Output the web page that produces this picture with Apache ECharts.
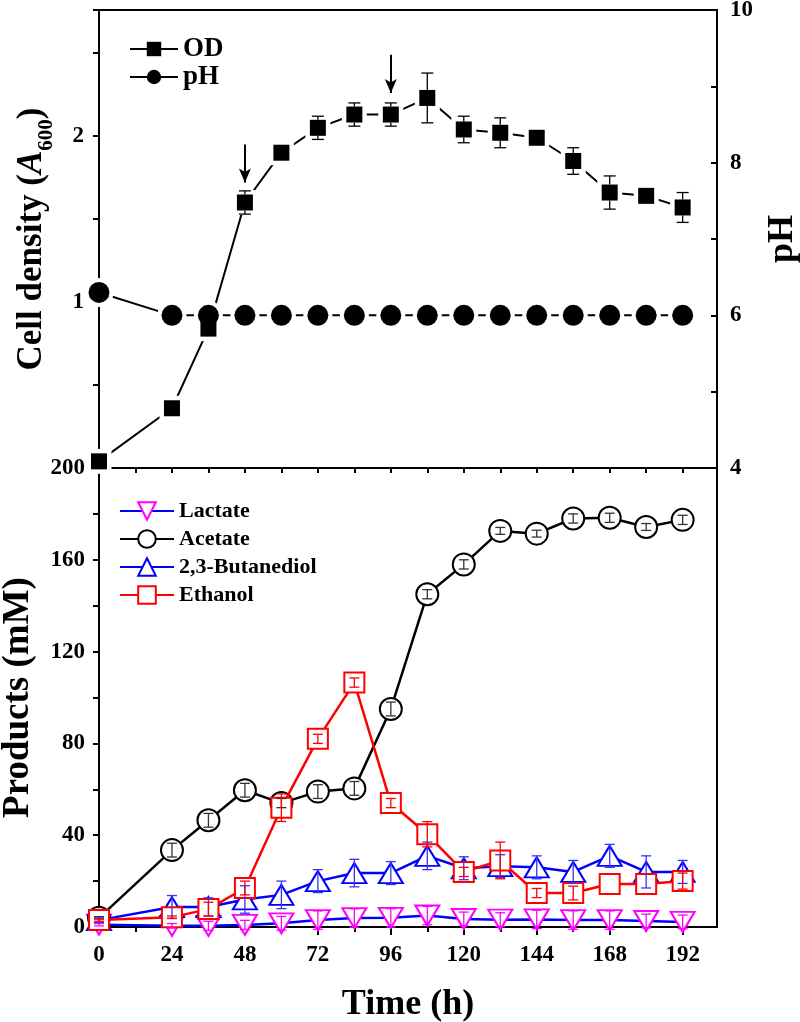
<!DOCTYPE html>
<html>
<head>
<meta charset="utf-8">
<script src="https://cdn.jsdelivr.net/npm/echarts@6/dist/echarts.min.js"></script>
<style>
html,body{margin:0;padding:0;background:#fff;}
#chart{width:800px;height:1022px;}
</style>
</head>
<body>
<div id="chart"></div>
<script>
// ---------- data ----------
const times = [0, 24, 36, 48, 60, 72, 84, 96, 108, 120, 132, 144, 156, 168, 180, 192];
const od = [0.04, 0.36, 0.84, 1.60, 1.90, 2.05, 2.13, 2.13, 2.23, 2.04, 2.02, 1.99, 1.85, 1.66, 1.64, 1.57];
const odErr = [0, 0.02, 0.03, 0.07, 0.02, 0.07, 0.07, 0.07, 0.15, 0.08, 0.09, 0, 0.08, 0.10, 0, 0.09];
const ph = [6.3, 6, 6, 6, 6, 6, 6, 6, 6, 6, 6, 6, 6, 6, 6, 6];
const lactate = [1, 0.5, 0.5, 0.9, 1.6, 3, 3.9, 4, 5, 3.5, 3.2, 3.3, 3, 3, 2.6, 2.2];
const lactateErr = [0.5, 1, 2, 2, 3, 4, 4, 4, 4, 3, 3, 4, 4, 4, 3, 3];
const acetate = [4, 33.5, 46.5, 59.6, 54, 59, 60.4, 95, 145, 158, 172.6, 171.4, 178, 178.3, 174.3, 177.4];
const acetateErr = [0.5, 3, 3, 3, 2, 3, 3, 3, 2, 2, 1.5, 1.5, 2, 2, 1.5, 2];
const butanediol = [3, 8.7, 8.7, 12, 14, 20, 23.5, 23.5, 31, 25.6, 26.5, 26, 24, 31, 24, 24];
const butanediolErr = [1, 5, 4, 6, 6, 5, 6, 5, 6, 5, 5, 5, 5, 5, 7, 5];
const ethanol = [3, 4.3, 7.8, 17, 52, 82, 106.5, 54, 40.4, 24, 29, 14.8, 14.8, 18.7, 18.7, 20];
const ethanolErr = [0.5, 0.5, 3, 3, 6, 2, 2, 2, 5.5, 2, 8, 2, 3, 0, 0, 3.5];
// arrows marking time points on the OD curve: [time, from, to]
const arrowTimes = [48, 96];
const arrowFrom = [1.95, 2.49];
const arrowTo = [1.72, 2.26];
// tick values
const xMajorTicks = [0, 24, 48, 72, 96, 120, 144, 168, 192];
const xMinorTicks = [12, 36, 60, 84, 108, 132, 156, 180];
const xTopTicks = [12, 24, 36, 48, 60, 72, 84, 96, 108, 120, 132, 144, 156, 168, 180, 192];

// ---------- helpers ----------
const FONT = "'Liberation Serif','Times New Roman',serif";
const pairs = (ys) => times.map((t, i) => [t, ys[i]]);
const triples = (ys, es) => times.map((t, i) => [t, ys[i], es[i]]);

// gap: pixels around the data point left undrawn (hidden inside a filled marker)
function errSeries(name, ys, es, color, xi, yi, cap, gap) {
  return {
    name: name, type: 'custom', xAxisIndex: xi, yAxisIndex: yi, z: 10,
    silent: true,
    data: triples(ys, es),
    renderItem: function (params, api) {
      const x = api.value(0), y = api.value(1), e = api.value(2);
      if (!e) return null;
      const c = api.coord([x, y]);
      const top = api.coord([x, y + e]);
      const bot = api.coord([x, y - e]);
      const st = { stroke: color, lineWidth: 1.3 };
      const ch = [
        { type: 'line', shape: { x1: top[0] - cap, y1: top[1], x2: top[0] + cap, y2: top[1] }, style: st },
        { type: 'line', shape: { x1: bot[0] - cap, y1: bot[1], x2: bot[0] + cap, y2: bot[1] }, style: st }
      ];
      if (gap > 0) {
        if (c[1] - top[1] > gap) ch.push({ type: 'line', shape: { x1: c[0], y1: top[1], x2: c[0], y2: c[1] - gap }, style: st });
        if (bot[1] - c[1] > gap) ch.push({ type: 'line', shape: { x1: c[0], y1: c[1] + gap, x2: c[0], y2: bot[1] }, style: st });
      } else {
        ch.push({ type: 'line', shape: { x1: top[0], y1: top[1], x2: bot[0], y2: bot[1] }, style: st });
      }
      return { type: 'group', children: ch };
    }
  };
}

const axisLineStyle = { color: '#000', width: 2 };
const tickStyle = { color: '#000', width: 2 };

const option = {
  animation: false,
  backgroundColor: '#fff',
  textStyle: { fontFamily: FONT, fontWeight: 'bold', color: '#000' },
  grid: [
    { left: 99, top: 10, width: 618, height: 458, show: true, borderColor: '#000', borderWidth: 2, backgroundColor: 'transparent', containLabel: false, outerBoundsMode: 'none' },
    { left: 99, top: 468, width: 618, height: 459, show: true, borderColor: '#000', borderWidth: 2, backgroundColor: 'transparent', containLabel: false, outerBoundsMode: 'none' }
  ],
  legend: [
    {
      data: ['OD', 'pH'], orient: 'vertical', left: 124, top: 30,
      itemWidth: 48, itemHeight: 18, itemGap: 0,
      textStyle: { fontFamily: FONT, fontWeight: 'bold', fontSize: 27, lineHeight: 28, color: '#000' },
      selectedMode: false
    },
    {
      data: ['Lactate', 'Acetate', '2,3-Butanediol', 'Ethanol'], orient: 'vertical', left: 114, top: 492,
      itemWidth: 54, itemHeight: 22, itemGap: 0,
      textStyle: { fontFamily: FONT, fontWeight: 'bold', fontSize: 22, lineHeight: 28, color: '#000' },
      selectedMode: false
    }
  ],
  xAxis: [
    { // 0: top panel bottom line
      type: 'value', gridIndex: 0, min: 0, max: 203.3, position: 'bottom',
      axisLine: { show: false }, axisTick: { show: false }, axisLabel: { show: false }, splitLine: { show: false }
    },
    { // 1: bottom panel main x axis
      type: 'value', gridIndex: 1, min: 0, max: 203.3, position: 'bottom',
      name: 'Time (h)', nameLocation: 'middle', nameGap: 60,
      nameTextStyle: { fontFamily: FONT, fontWeight: 'bold', fontSize: 36, color: '#000' },
      axisLine: { show: true, onZero: false, lineStyle: axisLineStyle },
      axisTick: { show: true, inside: false, length: 8, lineStyle: tickStyle, customValues: xMajorTicks },
      axisLabel: { show: true, customValues: xMajorTicks, margin: 17, fontSize: 23, fontFamily: FONT, fontWeight: 'bold', color: '#000' },
      splitLine: { show: false }
    },
    { // 2: minor ticks bottom
      type: 'value', gridIndex: 1, min: 0, max: 203.3, position: 'bottom',
      axisLine: { show: false, onZero: false },
      axisTick: { show: true, inside: false, length: 5, lineStyle: tickStyle, customValues: xMinorTicks },
      axisLabel: { show: false }, splitLine: { show: false }
    },
    { // 3: top of bottom panel, inward ticks
      type: 'value', gridIndex: 1, min: 0, max: 203.3, position: 'top',
      axisLine: { show: false, onZero: false },
      axisTick: { show: true, inside: true, length: 5, lineStyle: tickStyle, customValues: xTopTicks },
      axisLabel: { show: false }, splitLine: { show: false }
    }
  ],
  yAxis: [
    { // 0: OD
      type: 'value', gridIndex: 0, min: 0, max: 2.76, interval: 0.5, position: 'left',
      name: '{a|Cell density (}{i|A}{s|600}{a|)}', nameLocation: 'middle', nameGap: 50, nameRotate: 90,
      nameTextStyle: {
        rich: {
          a: { fontFamily: FONT, fontWeight: 'bold', fontSize: 35, lineHeight: 40, color: '#000', verticalAlign: 'bottom' },
          i: { fontFamily: FONT, fontWeight: 'bold', fontStyle: 'italic', fontSize: 35, lineHeight: 40, color: '#000', verticalAlign: 'bottom' },
          s: { fontFamily: FONT, fontWeight: 'bold', fontSize: 21, lineHeight: 22, color: '#000', verticalAlign: 'bottom', padding: [0, 0, -8, 0] }
        }
      },
      axisLine: { show: true, onZero: false, lineStyle: axisLineStyle },
      axisTick: { show: true, inside: false, length: 6, lineStyle: tickStyle },
      axisLabel: { margin: 15, fontSize: 23, fontFamily: FONT, fontWeight: 'bold', color: '#000',
        formatter: v => (v === 1 || v === 2) ? String(v) : '' },
      splitLine: { show: false }
    },
    { // 1: pH
      type: 'value', gridIndex: 0, min: 4, max: 10, interval: 1, position: 'right',
      name: 'pH', nameLocation: 'middle', nameGap: 48, nameRotate: 90,
      nameTextStyle: { fontFamily: FONT, fontWeight: 'bold', fontSize: 36, color: '#000' },
      axisLine: { show: true, onZero: false, lineStyle: axisLineStyle },
      axisTick: { show: true, inside: true, length: 6, lineStyle: tickStyle },
      axisLabel: { margin: 13, fontSize: 23, fontFamily: FONT, fontWeight: 'bold', color: '#000',
        formatter: v => (v % 2 === 0) ? String(v) : '' },
      splitLine: { show: false }
    },
    { // 2: Products
      type: 'value', gridIndex: 1, min: 0, max: 200, interval: 20, position: 'left',
      name: 'Products (mM)', nameLocation: 'middle', nameGap: 62, nameRotate: 90,
      nameTextStyle: { fontFamily: FONT, fontWeight: 'bold', fontSize: 37, color: '#000' },
      axisLine: { show: true, onZero: false, lineStyle: axisLineStyle },
      axisTick: { show: true, inside: false, length: 6, lineStyle: tickStyle },
      axisLabel: { margin: 14, fontSize: 23, fontFamily: FONT, fontWeight: 'bold', color: '#000',
        formatter: v => (v % 40 === 0) ? String(v) : '' },
      splitLine: { show: false }
    }
  ],
  series: [
    // ----- top panel -----
    {
      name: 'OD', type: 'line', xAxisIndex: 0, yAxisIndex: 0, z: 2,
      data: pairs(od), symbol: 'rect', symbolSize: 16,
      lineStyle: { color: '#000', width: 2 }, itemStyle: { color: '#000' },
      markLine: {
        silent: true, symbol: ['none', 'arrow'], symbolSize: [9, 14],
        lineStyle: { color: '#000', width: 2, type: 'solid' },
        label: { show: false },
        data: arrowTimes.map((t, i) => [{ coord: [t, arrowFrom[i]] }, { coord: [t, arrowTo[i]] }])
      }
    },
    {
      name: 'pH', type: 'line', xAxisIndex: 0, yAxisIndex: 1, z: 2,
      data: pairs(ph), symbol: 'circle', symbolSize: 21,
      lineStyle: { color: '#000', width: 2 }, itemStyle: { color: '#000' }
    },
    // halos (gap between line and marker)
    { name: 'odHalo', type: 'scatter', xAxisIndex: 0, yAxisIndex: 0, z: 3, silent: true,
      data: pairs(od), symbol: 'rect', symbolSize: 25, itemStyle: { color: '#fff', opacity: 1 } },
    { name: 'phHalo', type: 'scatter', xAxisIndex: 0, yAxisIndex: 1, z: 3, silent: true,
      data: pairs(ph), symbol: 'circle', symbolSize: 29, itemStyle: { color: '#fff', opacity: 1 } },
    { name: 'odMark', type: 'scatter', xAxisIndex: 0, yAxisIndex: 0, z: 4, silent: true,
      data: pairs(od), symbol: 'rect', symbolSize: 16, itemStyle: { color: '#000', opacity: 1 } },
    { name: 'phMark', type: 'scatter', xAxisIndex: 0, yAxisIndex: 1, z: 4, silent: true,
      data: pairs(ph), symbol: 'circle', symbolSize: 21, itemStyle: { color: '#000', opacity: 1 } },
    errSeries('odErr', od, odErr, '#000', 0, 0, 6, 8),
    // ----- bottom panel -----
    {
      name: 'Lactate', type: 'line', xAxisIndex: 1, yAxisIndex: 2, z: 3,
      data: pairs(lactate), symbol: 'emptyTriangle', symbolRotate: 180, symbolSize: [24, 20],
      lineStyle: { color: '#0000ff', width: 2.5 }, itemStyle: { color: '#ff00ff', borderWidth: 2 }
    },
    {
      name: 'Acetate', type: 'line', xAxisIndex: 1, yAxisIndex: 2, z: 3,
      data: pairs(acetate), symbol: 'emptyCircle', symbolSize: 22,
      lineStyle: { color: '#000', width: 2.5 }, itemStyle: { color: '#000', borderWidth: 2 }
    },
    {
      name: '2,3-Butanediol', type: 'line', xAxisIndex: 1, yAxisIndex: 2, z: 3,
      data: pairs(butanediol), symbol: 'emptyTriangle', symbolSize: [24, 20],
      lineStyle: { color: '#0000ff', width: 2.5 }, itemStyle: { color: '#0000ff', borderWidth: 2 }
    },
    {
      name: 'Ethanol', type: 'line', xAxisIndex: 1, yAxisIndex: 2, z: 4,
      data: pairs(ethanol), symbol: 'emptyRect', symbolSize: 20,
      lineStyle: { color: '#ff0000', width: 2.5 }, itemStyle: { color: '#ff0000', borderWidth: 2 }
    },
    errSeries('lacErr', lactate, lactateErr, '#ff00ff', 1, 2, 5, 0),
    errSeries('aceErr', acetate, acetateErr, '#333', 1, 2, 5, 0),
    errSeries('butErr', butanediol, butanediolErr, '#3333ff', 1, 2, 5, 0),
    errSeries('ethErr', ethanol, ethanolErr, '#ff0000', 1, 2, 5, 0)
  ]
};

const chart = echarts.init(document.getElementById('chart'), null, { renderer: 'canvas' });
chart.setOption(option);
</script>
</body>
</html>
